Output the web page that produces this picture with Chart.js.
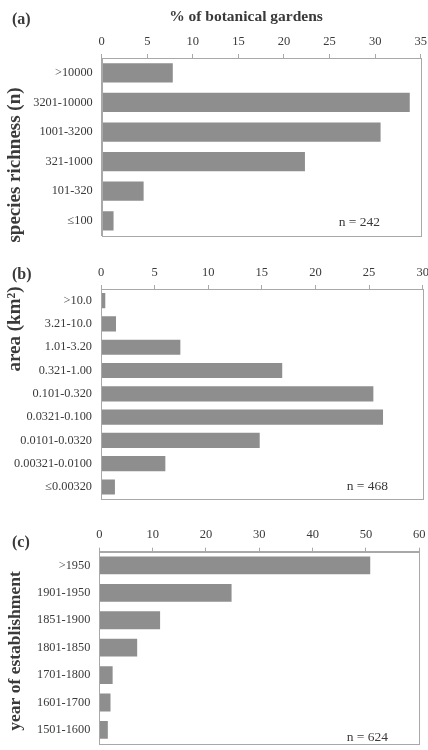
<!DOCTYPE html>
<html>
<head>
<meta charset="utf-8">
<script src="https://cdn.jsdelivr.net/npm/chart.js@4.4.1/dist/chart.umd.min.js"></script>
<style>
  html, body { margin: 0; padding: 0; background: #fff; overflow: hidden; width: 428px; height: 750px; }
  .wrap { position: relative; width: 428px; height: 750px; overflow: hidden; }
  canvas { position: absolute; left: 0; }
</style>
</head>
<body>
<div class="wrap">
  <canvas id="cA" width="440" height="252" style="top:0px"></canvas>
  <canvas id="cB" width="440" height="265" style="top:250px"></canvas>
  <canvas id="cC" width="440" height="250" style="top:510px"></canvas>
</div>
<script>
// ---- data ----
const xTitle = '% of botanical gardens';

const catsA = ['>10000', '3201-10000', '1001-3200', '321-1000', '101-320', '≤100'];
const valsA = [7.8, 33.8, 30.6, 22.3, 4.6, 1.3];
const maxA = 35, stepA = 5;
const yTitleA = 'species richness (n)';
const nA = 'n = 242';

const catsB = ['>10.0', '3.21-10.0', '1.01-3.20', '0.321-1.00', '0.101-0.320', '0.0321-0.100', '0.0101-0.0320', '0.00321-0.0100', '≤0.00320'];
const valsB = [0.4, 1.4, 7.4, 16.9, 25.4, 26.3, 14.8, 6.0, 1.3];
const maxB = 30, stepB = 5;
const yTitleB = 'area (km²)';
const nB = 'n = 468';

const catsC = ['>1950', '1901-1950', '1851-1900', '1801-1850', '1701-1800', '1601-1700', '1501-1600'];
const valsC = [50.8, 24.8, 11.4, 7.1, 2.5, 2.1, 1.6];
const maxC = 60, stepC = 10;
const yTitleC = 'year of establishment';
const nC = 'n = 624';

// ---- styling ----
const SERIF = "'Liberation Serif', 'DejaVu Serif', serif";
const TXT = '#3a3a3a';
const BAR = '#8e8e8e';
const FRAME = '#a8a8a8';

const decor = {
  id: 'decor',
  afterDraw(chart, args, o) {
    const ctx = chart.ctx, a = chart.chartArea;
    ctx.save();
    // frame
    ctx.strokeStyle = FRAME;
    ctx.lineWidth = 1;
    ctx.strokeRect(Math.round(a.left) + 0.5, Math.round(a.top) + 0.5, Math.round(a.right - a.left), Math.round(a.bottom - a.top));
    ctx.fillStyle = TXT;
    // panel letter
    ctx.font = 'bold 16px ' + SERIF;
    ctx.textAlign = 'left';
    ctx.textBaseline = 'middle';
    ctx.fillText(o.letter, o.letterX, o.letterY);
    // top title
    if (o.topTitle) {
      ctx.font = 'bold 15.5px ' + SERIF;
      ctx.textAlign = 'center';
      ctx.fillText(o.topTitle, o.topX, o.topY);
    }
    // n label
    ctx.font = '13.5px ' + SERIF;
    ctx.textAlign = 'right';
    ctx.fillText(o.n, o.nX, o.nY);
    // rotated y title
    ctx.translate(o.yTX, o.yTY);
    ctx.rotate(-Math.PI / 2);
    ctx.font = 'bold ' + o.yTSize + 'px ' + SERIF;
    ctx.textAlign = 'center';
    ctx.textBaseline = 'middle';
    ctx.fillText(o.yTitle, 0, 0);
    ctx.restore();
  }
};

function makeChart(id, cats, vals, max, step, area, canvasH, deco) {
  const W = 440;
  return new Chart(document.getElementById(id), {
    type: 'bar',
    data: {
      labels: cats,
      datasets: [{ data: vals, backgroundColor: BAR, borderWidth: 0, barPercentage: 0.65, categoryPercentage: 1 }]
    },
    options: {
      indexAxis: 'y',
      responsive: false,
      animation: false,
      devicePixelRatio: 1,
      layout: { padding: { left: 0, top: 0, right: W - area.right, bottom: canvasH - area.bottom } },
      plugins: { legend: { display: false }, tooltip: { enabled: false }, decor: deco },
      scales: {
        x: {
          position: 'top',
          min: 0, max: max,
          afterFit: s => { s.height = area.top; },
          ticks: { stepSize: step, color: TXT, font: { family: SERIF, size: 12.5 }, padding: 5 },
          grid: { drawOnChartArea: false, drawTicks: true, tickLength: 4, color: FRAME },
          border: { display: true, color: FRAME }
        },
        y: {
          afterFit: s => { s.width = area.left; },
          ticks: { color: TXT, font: { family: SERIF, size: 12.3 }, padding: 9 },
          grid: { display: false, drawTicks: false },
          border: { display: true, color: FRAME }
        }
      }
    },
    plugins: [decor]
  });
}

makeChart('cA', catsA, valsA, maxA, stepA,
  { left: 101.7, right: 420.7, top: 58, bottom: 243.3 }, 252,
  { letter: '(a)', letterX: 12, letterY: 20, topTitle: xTitle, topX: 246, topY: 17,
    n: nA, nX: 380, nY: 222, yTitle: yTitleA, yTX: 15, yTY: 165, yTSize: 19 });

makeChart('cB', catsB, valsB, maxB, stepB,
  { left: 101, right: 422.7, top: 39, bottom: 258 }, 265,
  { letter: '(b)', letterX: 12, letterY: 25, topTitle: null,
    n: nB, nX: 388, nY: 236, yTitle: yTitleB, yTX: 15, yTY: 79, yTSize: 19 });

makeChart('cC', catsC, valsC, maxC, stepC,
  { left: 99.3, right: 419.3, top: 41.7, bottom: 244.7 }, 250,
  { letter: '(c)', letterX: 12, letterY: 33, topTitle: null,
    n: nC, nX: 388, nY: 227, yTitle: yTitleC, yTX: 15, yTY: 141, yTSize: 17.5 });
</script>
</body>
</html>
